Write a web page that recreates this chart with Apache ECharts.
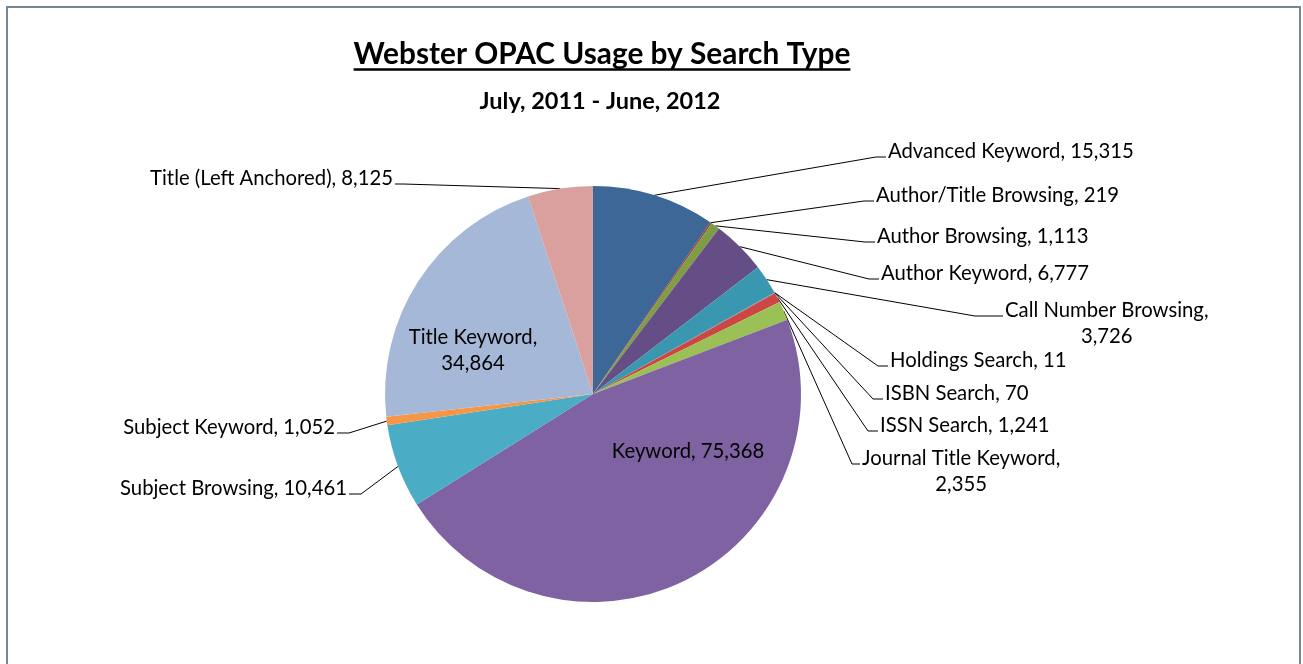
<!DOCTYPE html>
<html><head><meta charset="utf-8">
<script src="https://cdn.jsdelivr.net/npm/echarts@6/dist/echarts.min.js"></script>
<style>html,body{margin:0;padding:0;background:#fff;}#c{width:1303px;height:664px;}</style>
</head><body><div id="c"></div>
<script>
// ---- data ----
const categories = ['Advanced Keyword','Author/Title Browsing','Author Browsing','Author Keyword','Call Number Browsing','Holdings Search','ISBN Search','ISSN Search','Journal Title Keyword','Keyword','Subject Browsing','Subject Keyword','Title Keyword','Title (Left Anchored)'];
const values = [15315,219,1113,6777,3726,11,70,1241,2355,75368,10461,1052,34864,8125];
const titleText = 'Webster OPAC Usage by Search Type';
const subtitleText = 'July, 2011 - June, 2012';

// ---- styles / layout ----
const colors = ['#3D6797','#9E413E','#7E9D45','#654D86','#3A97B0','#C8762E','#4F81BD','#CC4644','#9BC055','#7F62A1','#4BACC6','#F79646','#A6B8D8','#D9A09E'];
const twoLine = {'Call Number Browsing':1,'Journal Title Keyword':1,'Title Keyword':1};
// [x, y(first line centre), side, horizontal leader length]
const anchors = [
  [888,151,'right',10],[876,195,'right',10],[877,236,'right',10],[881,273,'right',10],
  [1005,310,'right',28],[890,360,'right',10],[885,393,'right',10],[880,425,'right',10],
  [862,458,'right',8],[688,451,'inside',0],[347,488,'left',12],[335,427,'left',12],
  [473,350,'inside',0],[393,178,'left',8]
];
const FONT = 'Lato';
const LABEL_SIZE = 20.3;
const LINE_H = 26;
const TITLE_FONT = 'bold 29.8px ' + FONT;
const SUB_FONT = 'bold 23.5px ' + FONT;

const chart = echarts.init(document.getElementById('c'));

const data = categories.map((n, i) => {
  const d = { name: n, value: values[i], itemStyle: { color: colors[i] } };
  if (anchors[i][2] === 'inside') { d.label = { position: 'inside' }; d.labelLine = { show: false }; }
  return d;
});

function fmt(p) {
  const v = p.value.toLocaleString('en-US');
  return p.name + (twoLine[p.name] ? ',\n' : ', ') + v;
}

const mc = document.createElement('canvas').getContext('2d');
mc.font = TITLE_FONT;
const tw = mc.measureText(titleText).width;
const tcx = 602;

chart.setOption({
  backgroundColor: '#fff',
  animation: false,
  graphic: [
    { type: 'rect', shape: { x: 7, y: 7, width: 1293, height: 720 }, style: { fill: 'none', stroke: '#71879A', lineWidth: 2 }, silent: true },
    { type: 'text', x: tcx, y: 54, style: { text: titleText, font: TITLE_FONT, fill: '#000', textAlign: 'center', textVerticalAlign: 'middle' } },
    { type: 'line', shape: { x1: tcx - tw / 2, y1: 69.5, x2: tcx + tw / 2, y2: 69.5 }, style: { stroke: '#000', lineWidth: 2.5 } },
    { type: 'text', x: 600, y: 101, style: { text: subtitleText, font: SUB_FONT, fill: '#000', textAlign: 'center', textVerticalAlign: 'middle' } }
  ],
  series: [{
    type: 'pie',
    center: [593, 394],
    radius: 208,
    startAngle: 90,
    clockwise: true,
    avoidLabelOverlap: false,
    itemStyle: { borderWidth: 0 },
    label: { show: true, formatter: fmt, color: '#000', fontFamily: FONT, fontSize: LABEL_SIZE, lineHeight: LINE_H, align: 'center' },
    labelLine: { show: true, length: 10, length2: 10, lineStyle: { color: '#000', width: 1 } },
    labelLayout: function (p) {
      const a = anchors[p.dataIndex];
      const w = p.labelRect.width, h = p.labelRect.height;
      const multi = h > LINE_H * 1.5;
      if (a[2] === 'inside') {
        return { x: a[0], y: a[1], align: 'center', verticalAlign: 'middle' };
      }
      const p0 = p.labelLinePoints ? p.labelLinePoints[0] : [a[0], a[1]];
      const ly = a[1] + 6;
      if (a[2] === 'right') {
        return { x: multi ? a[0] + w / 2 : a[0], y: multi ? a[1] + LINE_H / 2 : a[1], align: multi ? 'center' : 'left', verticalAlign: 'middle',
          labelLinePoints: [p0, [a[0] - 2 - a[3], ly], [a[0] - 2, ly]] };
      }
      return { x: a[0], y: a[1], align: 'right', verticalAlign: 'middle',
        labelLinePoints: [p0, [a[0] + 2 + a[3], ly], [a[0] + 2, ly]] };
    },
    data: data
  }]
});
</script>
</body></html>
